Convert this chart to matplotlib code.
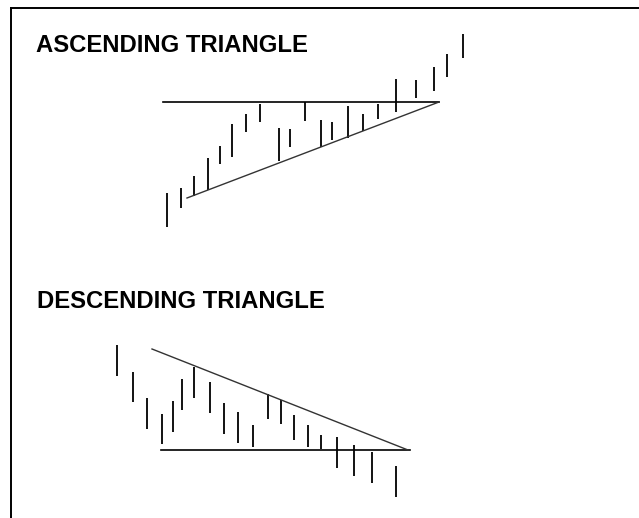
import matplotlib.pyplot as plt

# ascending triangle: bar positions, highs and lows (chart units, up = higher price)
asc_x = [167, 181, 194, 208, 220, 232, 246, 260, 279, 290, 305,
         321, 332, 348, 363, 378, 396, 416, 434, 447, 463]
asc_high = [325, 330, 342, 360, 372, 394, 404, 414, 390, 389, 416,
            398, 396, 412, 404, 414, 439, 438, 451, 464, 484]
asc_low = [291, 310, 322, 328, 354, 361, 386, 396, 357, 371, 397,
           371, 378, 380, 387, 399, 406, 420, 427, 441, 460]
asc_resist_x = [163, 439]
asc_resist_y = [416, 416]
asc_support_x = [187, 439]
asc_support_y = [320, 416]

# descending triangle
desc_x = [117, 133, 147, 162, 173, 182, 194, 210, 224, 238,
          253, 268, 281, 294, 308, 321, 337, 354, 372, 396]
desc_high = [173, 146, 120, 104, 117, 139, 151, 136, 115, 106,
             93, 124, 118, 103, 93, 83, 81, 73, 66, 52]
desc_low = [142, 116, 89, 74, 86, 108, 120, 105, 84, 75,
            71, 99, 94, 78, 71, 69, 50, 42, 35, 21]
desc_support_x = [161, 410]
desc_support_y = [68, 68]
desc_resist_x = [152, 408]
desc_resist_y = [169, 68]

titles = ["ASCENDING TRIANGLE", "DESCENDING TRIANGLE"]

fig = plt.figure(figsize=(6.39, 5.18), dpi=100)
ax = fig.add_axes([0, 0, 1, 1])
ax.set_xlim(0, 639)
ax.set_ylim(0, 518)
ax.axis('off')

# frame (top and left edges only visible)
ax.plot([10.5, 639], [510, 510], color='black', lw=1.4)
ax.plot([10.5, 10.5], [0, 510], color='black', lw=1.4)

ax.vlines(asc_x, asc_low, asc_high, color='black', lw=1.3)
ax.plot(asc_resist_x, asc_resist_y, color='black', lw=1.2)
ax.plot(asc_support_x, asc_support_y, color='#333333', lw=1.0)

ax.vlines(desc_x, desc_low, desc_high, color='black', lw=1.3)
ax.plot(desc_support_x, desc_support_y, color='black', lw=1.2)
ax.plot(desc_resist_x, desc_resist_y, color='#333333', lw=1.0)

ax.text(36, 466, titles[0], fontsize=17.2, fontweight='bold',
        family='Liberation Sans', va='baseline', ha='left')
ax.text(37, 210, titles[1], fontsize=17.2, fontweight='bold',
        family='Liberation Sans', va='baseline', ha='left')

fig.savefig('out.png', dpi=100)
